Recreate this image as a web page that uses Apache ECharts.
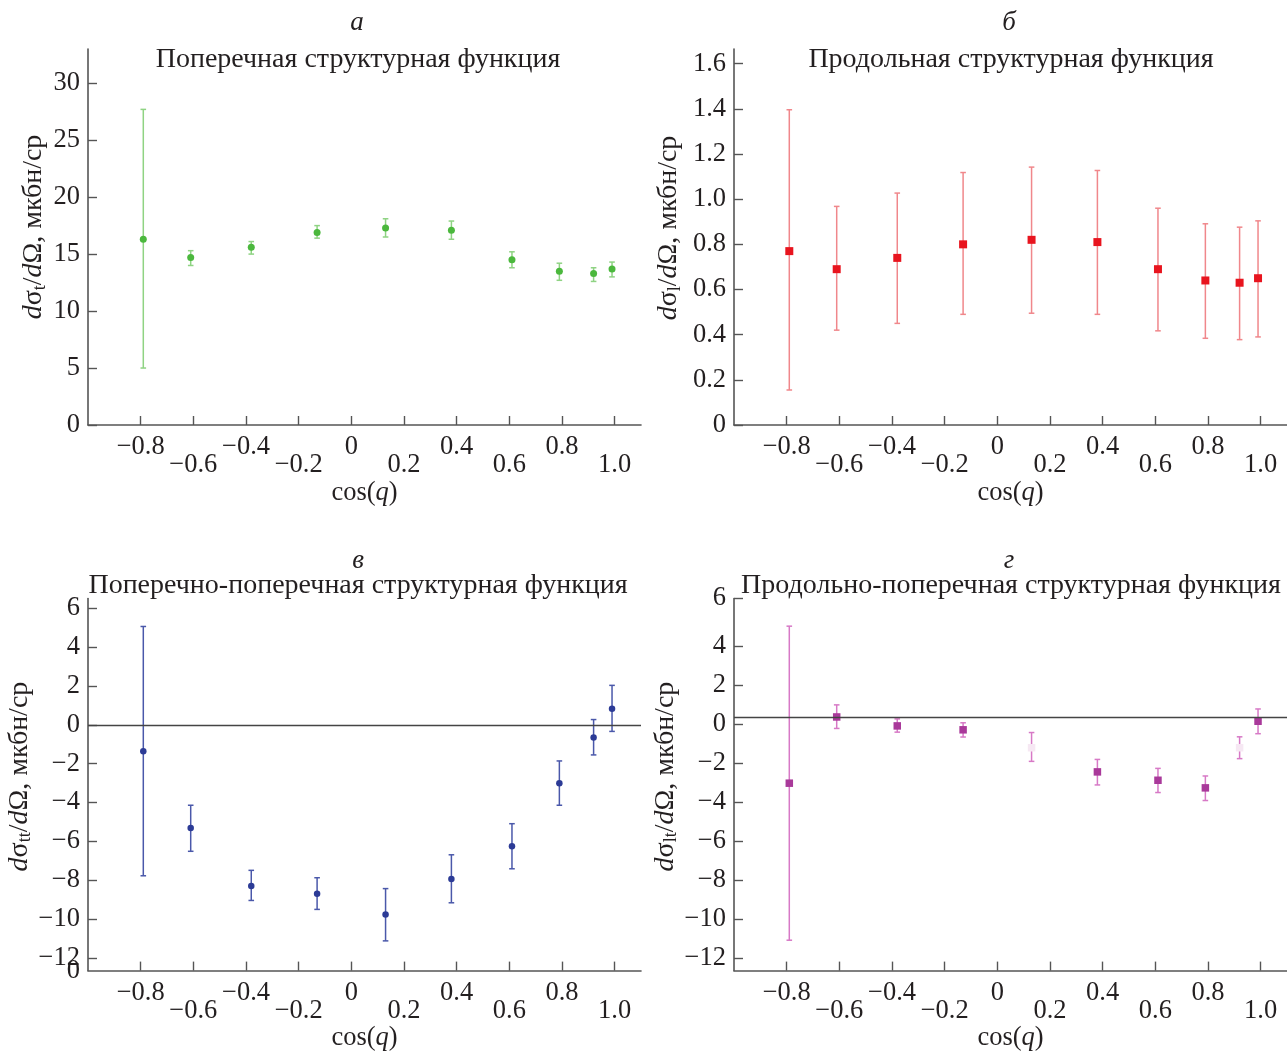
<!DOCTYPE html>
<html>
<head>
<meta charset="utf-8">
<script src="https://cdn.jsdelivr.net/npm/echarts@6/dist/echarts.min.js"></script>
<style>
html,body{margin:0;padding:0;background:#fff;}
#chart{width:1287px;height:1053px;}
</style>
</head>
<body>
<div id="chart"></div>
<script>
// ---- data ----
const cosTheta = [-0.79, -0.61, -0.38, -0.13, 0.13, 0.38, 0.61, 0.79, 0.92, 0.99];

const sigmaT     = [16.3, 14.7, 15.6, 16.9, 17.3, 17.1, 14.5, 13.5, 13.3, 13.7];
const sigmaTLow  = [5.0, 14.0, 15.0, 16.4, 16.5, 16.3, 13.8, 12.7, 12.6, 13.0];
const sigmaTHigh = [27.7, 15.3, 16.1, 17.5, 18.1, 17.9, 15.2, 14.2, 13.8, 14.3];

const sigmaL     = [0.77, 0.69, 0.74, 0.80, 0.82, 0.81, 0.69, 0.64, 0.63, 0.65];
const sigmaLLow  = [0.155, 0.42, 0.45, 0.49, 0.495, 0.49, 0.417, 0.384, 0.378, 0.39];
const sigmaLHigh = [1.396, 0.968, 1.027, 1.118, 1.142, 1.127, 0.96, 0.891, 0.876, 0.904];

const sigmaTT     = [-1.36, -5.31, -8.29, -8.69, -9.76, -7.94, -6.25, -3.01, -0.65, 0.83];
const sigmaTTLow  = [-7.77, -6.51, -9.04, -9.50, -11.12, -9.16, -7.41, -4.14, -1.55, -0.34];
const sigmaTTHigh = [5.06, -4.14, -7.49, -7.87, -8.43, -6.69, -5.09, -1.86, 0.27, 2.03];

const sigmaLT     = [-3.03, 0.37, -0.09, -0.29, -1.21, -2.45, -2.88, -3.27, -1.21, 0.15];
const sigmaLTLow  = [-11.09, -0.22, -0.41, -0.66, -1.91, -3.12, -3.51, -3.92, -1.77, -0.49];
const sigmaLTHigh = [5.03, 0.99, 0.27, 0.07, -0.43, -1.81, -2.27, -2.66, -0.65, 0.78];

const ttRefLine = 0;
const ltRefLine = 0.38;

const xTicks  = [-0.8, -0.6, -0.4, -0.2, 0, 0.2, 0.4, 0.6, 0.8, 1.0];
const yTicksT  = [0, 5, 10, 15, 20, 25, 30];
const yTicksL  = [0, 0.2, 0.4, 0.6, 0.8, 1.0, 1.2, 1.4, 1.6];
const yTicksTT = [-12, -10, -8, -6, -4, -2, 0, 2, 4, 6];
const yTicksLT = [-12, -10, -8, -6, -4, -2, 0, 2, 4];

const panelLetters = ['а', 'б', 'в', 'г'];
const panelTitles = [
  'Поперечная структурная функция',
  'Продольная структурная функция',
  'Поперечно-поперечная структурная функция',
  'Продольно-поперечная структурная функция'
];

// ---- chart ----
const FONT = '"Liberation Serif", "Times New Roman", serif';
const TXT = '#231f20';
const AX = '#555555';
const FS = 26.5;
const NFS = 28;

const xRange = [-1.0, 1.1];
const yRanges = [[0, 33], [0, 1.665], [-12.65, 6.5], [-12.65, 6.45]];

const grids = [
  {left: 88, top: 49, width: 553, height: 376},
  {left: 734, top: 49, width: 556, height: 376},
  {left: 88, top: 598.5, width: 553, height: 375},
  {left: 734, top: 598.5, width: 556, height: 375}
];

function minus(s) { return String(s).replace('-', '\u2212'); }

function xFmt(v) {
  const r = Math.round(v * 10);
  const t = r === 0 ? '0' : minus(v.toFixed(1));
  return (r % 4 === 0) ? t : '\n' + t;
}

function makeX(i) {
  return {
    type: 'value', gridIndex: i, min: xRange[0], max: xRange[1],
    splitLine: {show: false},
    axisLine: {onZero: false, lineStyle: {color: AX, width: 1.6}},
    axisTick: {inside: true, length: 9, customValues: xTicks, lineStyle: {color: AX, width: 1.4}},
    axisLabel: {customValues: xTicks, formatter: xFmt, margin: 13, fontSize: FS, lineHeight: 18,
      color: TXT, fontFamily: FONT},
    name: '{n|cos(}{i|q}{n|)}', nameLocation: 'middle', nameGap: i < 2 ? 52 : 54,
    nameTextStyle: {color: TXT, fontFamily: FONT, fontSize: FS,
      rich: {n: {fontFamily: FONT, fontSize: FS, color: TXT},
             i: {fontFamily: FONT, fontSize: FS, color: TXT, fontStyle: 'italic'}}}
  };
}

function yName(sub) {
  return '{i|d}{n|σ}{s|' + sub + '}{n|/}{i|d}{n|Ω, мкбн/ср}';
}

function makeY(i, ticks, labels, fmt, sub, gap, shift) {
  return {
    type: 'value', gridIndex: i, min: yRanges[i][0], max: yRanges[i][1],
    splitLine: {show: false},
    axisLine: {onZero: false, lineStyle: {color: AX, width: 1.6}},
    axisTick: {inside: true, length: 9, customValues: ticks, lineStyle: {color: AX, width: 1.4}},
    axisLabel: {customValues: labels, formatter: fmt, margin: 8, fontSize: FS, color: TXT, fontFamily: FONT,
      showMinLabel: true, showMaxLabel: true},
    name: yName(sub), nameLocation: 'middle', nameGap: gap,
    nameTextStyle: {color: TXT, fontFamily: FONT, fontSize: NFS, padding: [0, 0, 0, shift],
      rich: {
        n: {fontFamily: FONT, fontSize: NFS, color: TXT, lineHeight: 30},
        i: {fontFamily: FONT, fontSize: NFS, color: TXT, fontStyle: 'italic', lineHeight: 30},
        s: {fontFamily: FONT, fontSize: 18, color: TXT, verticalAlign: 'bottom', lineHeight: 16}
      }}
  };
}

// extra label-only axis in panel c: the stray "0" printed at the bottom of the axis
const cornerZeroAxis = {
  type: 'value', gridIndex: 2, position: 'left', min: yRanges[2][0], max: yRanges[2][1],
  splitLine: {show: false}, axisLine: {show: false}, axisTick: {show: false},
  axisLabel: {customValues: [yRanges[2][0]], formatter: () => '0', margin: 8, fontSize: FS,
    color: TXT, fontFamily: FONT, showMinLabel: true}
};

function errRender(color, cap) {
  return function (params, api) {
    const x = api.value(0), lo = api.value(1), hi = api.value(2);
    const a = api.coord([x, hi]), b = api.coord([x, lo]);
    const st = {stroke: color, lineWidth: 1.5};
    return {type: 'group', children: [
      {type: 'line', shape: {x1: a[0], y1: a[1], x2: b[0], y2: b[1]}, style: st},
      {type: 'line', shape: {x1: a[0] - cap, y1: a[1], x2: a[0] + cap, y2: a[1]}, style: st},
      {type: 'line', shape: {x1: b[0] - cap, y1: b[1], x2: b[0] + cap, y2: b[1]}, style: st}
    ]};
  };
}

function errSeries(i, lo, hi, color) {
  return {
    type: 'custom', xAxisIndex: i, yAxisIndex: i, silent: true, z: 2,
    renderItem: errRender(color, 2.8),
    encode: {x: 0, y: [1, 2]},
    data: cosTheta.map((x, k) => [x, lo[k], hi[k]])
  };
}

function ptSeries(i, vals, color, symbol, size, extra) {
  const s = {
    type: 'scatter', xAxisIndex: i, yAxisIndex: i, z: 3, silent: true,
    symbol: symbol, symbolSize: size,
    itemStyle: {color: color, opacity: 1},
    data: cosTheta.map((x, k) => [x, vals[k]])
  };
  return Object.assign(s, extra || {});
}

function refLine(v) {
  return {markLine: {silent: true, symbol: 'none', animation: false,
    label: {show: false},
    lineStyle: {color: '#444', type: 'solid', width: 1.4},
    data: [{yAxis: v}]}};
}

const fmtInt = v => minus(String(v));
const fmtL = v => v === 0 ? '0' : v.toFixed(1);
const fmtLT = v => (v > 6 ? '6' : minus(String(v)));

const ltSeries = ptSeries(3, sigmaLT, '#a9399a', 'rect', 7.5, refLine(ltRefLine));
ltSeries.data = cosTheta.map((x, k) => (k === 4 || k === 8)
  ? {value: [x, sigmaLT[k]], itemStyle: {color: '#f6e8f3'}}
  : [x, sigmaLT[k]]);

const graphics = [];
const letterPos = [[357, 23], [1009, 23], [358, 561], [1009, 561]];
const titlePos = [[358, 60], [1011, 60], [358, 586], [1011, 586]];
for (let i = 0; i < 4; i++) {
  graphics.push({type: 'text', x: letterPos[i][0], y: letterPos[i][1],
    style: {text: panelLetters[i], fill: TXT, font: 'italic 27px ' + FONT, align: 'center', verticalAlign: 'middle'}});
  graphics.push({type: 'text', x: titlePos[i][0], y: titlePos[i][1],
    style: {text: panelTitles[i], fill: TXT, font: '28px ' + FONT, align: 'center', verticalAlign: 'middle'}});
}

const option = {
  animation: false,
  backgroundColor: '#ffffff',
  grid: grids,
  xAxis: [makeX(0), makeX(1), makeX(2), makeX(3)],
  yAxis: [
    makeY(0, yTicksT, yTicksT, fmtInt, 't', 39, 20),
    makeY(1, yTicksL, yTicksL, fmtL, 'l', 50, 18),
    makeY(2, yTicksTT, yTicksTT, fmtInt, 'tt', 45, 16),
    makeY(3, yTicksLT.concat([yRanges[3][1]]), yTicksLT.concat([yRanges[3][1]]), fmtLT, 'lt', 48, 16),
    cornerZeroAxis
  ],
  graphic: graphics,
  series: [
    errSeries(0, sigmaTLow, sigmaTHigh, '#8fd383'),
    ptSeries(0, sigmaT, '#4bb83d', 'circle', 7),
    errSeries(1, sigmaLLow, sigmaLHigh, '#f0878b'),
    ptSeries(1, sigmaL, '#e8141e', 'rect', 8),
    errSeries(2, sigmaTTLow, sigmaTTHigh, '#4a58aa'),
    ptSeries(2, sigmaTT, '#2c3b96', 'circle', 6.5, refLine(ttRefLine)),
    errSeries(3, sigmaLTLow, sigmaLTHigh, '#d779c6'),
    ltSeries
  ]
};

const chart = echarts.init(document.getElementById('chart'), null, {renderer: 'canvas'});
chart.setOption(option);
</script>
</body>
</html>
